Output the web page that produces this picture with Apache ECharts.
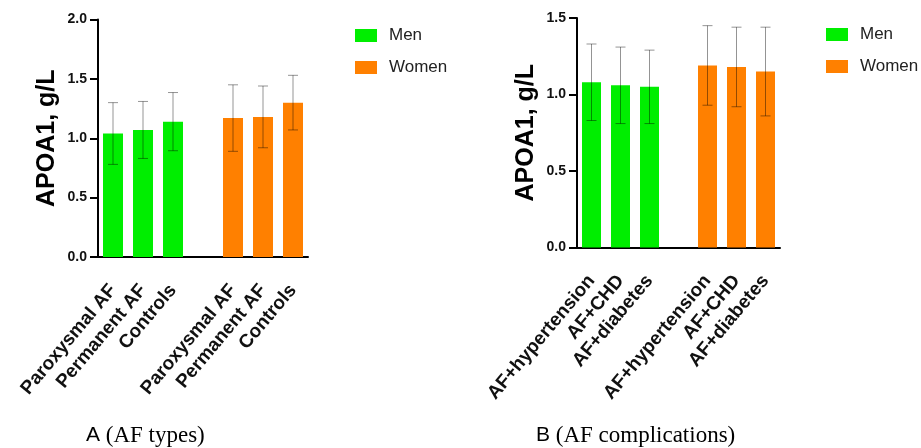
<!DOCTYPE html>
<html>
<head>
<meta charset="utf-8">
<script src="https://cdn.jsdelivr.net/npm/echarts@6/dist/echarts.min.js"></script>
<style>
  html, body { margin: 0; padding: 0; background: #fff; }
  #chart { width: 921px; height: 448px; }
</style>
</head>
<body>
<div id="chart"></div>
<script>
var font = 'Liberation Sans, Arial, sans-serif';

// panel A: AF types
var catsA = ['Paroxysmal AF', 'Permanent AF', 'Controls', '', 'Paroxysmal AF', 'Permanent AF', 'Controls'];
var menA = [1.04, 1.07, 1.14];
var menSdA = [0.26, 0.24, 0.245];
var womenA = [1.17, 1.18, 1.30];
var womenSdA = [0.28, 0.26, 0.23];

// panel B: AF complications
var catsB = ['AF+hypertension', 'AF+CHD', 'AF+diabetes', '', 'AF+hypertension', 'AF+CHD', 'AF+diabetes'];
var menB = [1.08, 1.06, 1.05];
var menSdB = [0.25, 0.25, 0.24];
var womenB = [1.19, 1.18, 1.15];
var womenSdB = [0.26, 0.26, 0.29];

var menColor = '#00ee00';
var womenColor = '#ff8000';

// men go in slots 0-2, women in slots 4-6 (slot 3 is the gap)
function menSlots(v) { return v.concat(['-', '-', '-', '-']); }
function womenSlots(v) { return ['-', '-', '-', '-'].concat(v); }
function errData(men, menSd, women, womenSd) {
    var out = [];
    men.forEach(function (m, i) { out.push([i, m - menSd[i], m + menSd[i]]); });
    women.forEach(function (w, i) { out.push([i + 4, w - womenSd[i], w + womenSd[i]]); });
    return out;
}

function renderErr(params, api) {
    var x = api.value(0);
    var top = api.coord([x, api.value(2)]);
    var bot = api.coord([x, api.value(1)]);
    var cap = 5;
    var style = { stroke: 'rgba(0,0,0,0.42)', lineWidth: 1 };
    return {
        type: 'group',
        children: [
            { type: 'line', shape: { x1: top[0], y1: top[1], x2: bot[0], y2: bot[1] }, style: style },
            { type: 'line', shape: { x1: top[0] - cap, y1: top[1], x2: top[0] + cap, y2: top[1] }, style: style },
            { type: 'line', shape: { x1: bot[0] - cap, y1: bot[1], x2: bot[0] + cap, y2: bot[1] }, style: style }
        ]
    };
}

function xAxis(idx, cats) {
    return {
        type: 'category',
        gridIndex: idx,
        data: cats,
        axisLine: { lineStyle: { color: '#000', width: 2 } },
        axisTick: {
            alignWithLabel: true, length: 10, lineStyle: { color: '#000', width: 2 },
            interval: function (i, v) { return v !== ''; }
        },
        axisLabel: {
            interval: 0, rotate: 50, margin: 30,
            color: '#111', fontFamily: font, fontWeight: 'bold', fontSize: 19
        }
    };
}

function yAxis(idx, max) {
    return {
        type: 'value',
        gridIndex: idx,
        min: 0, max: max, interval: 0.5,
        name: 'APOA1, g/L',
        nameLocation: 'middle',
        nameRotate: 90,
        nameGap: 38,
        nameTextStyle: { color: '#000', fontFamily: font, fontWeight: 'bold', fontSize: 25 },
        splitLine: { show: false },
        axisLine: { show: true, lineStyle: { color: '#000', width: 2 } },
        axisTick: { show: true, length: 8, lineStyle: { color: '#000', width: 2 } },
        axisLabel: {
            margin: 11, color: '#111', fontFamily: font, fontWeight: 'bold', fontSize: 14,
            formatter: function (v) { return v.toFixed(1); }
        }
    };
}

function legend(left, top) {
    return {
        orient: 'vertical', left: left, top: top, padding: 0,
        icon: 'rect', itemWidth: 22, itemHeight: 13, itemGap: 15,
        selectedMode: false,
        data: ['Men', 'Women'],
        textStyle: { color: '#222', fontFamily: font, fontSize: 17, padding: [0, 0, 0, 7] }
    };
}

var captionStyle = {
    fontFamily: 'Liberation Serif', fontWeight: 'normal', fontSize: 23, color: '#000',
    rich: { s: { fontFamily: font, fontSize: 21, color: '#000' } }
};

var chart = echarts.init(document.getElementById('chart'), null, { renderer: 'canvas' });
chart.setOption({
    animation: false,
    backgroundColor: '#fff',
    title: [
        { text: '{s|A} (AF types)', left: 86, top: 424, padding: 0, textStyle: captionStyle },
        { text: '{s|B} (AF complications)', left: 536, top: 424, padding: 0, textStyle: captionStyle }
    ],
    legend: [legend(355, 27), legend(826, 26)],
    grid: [
        { left: 98, top: 19.5, width: 210, height: 237.5 },
        { left: 577, top: 18, width: 203, height: 229.5 }
    ],
    xAxis: [xAxis(0, catsA), xAxis(1, catsB)],
    yAxis: [yAxis(0, 2), yAxis(1, 1.5)],
    series: [
        { name: 'Men', type: 'bar', xAxisIndex: 0, yAxisIndex: 0, barWidth: 20, barGap: '-100%',
          itemStyle: { color: menColor }, data: menSlots(menA) },
        { name: 'Women', type: 'bar', xAxisIndex: 0, yAxisIndex: 0, barWidth: 20, barGap: '-100%',
          itemStyle: { color: womenColor }, data: womenSlots(womenA) },
        { type: 'custom', xAxisIndex: 0, yAxisIndex: 0, z: 5, renderItem: renderErr,
          data: errData(menA, menSdA, womenA, womenSdA) },
        { name: 'Men', type: 'bar', xAxisIndex: 1, yAxisIndex: 1, barWidth: 19, barGap: '-100%',
          itemStyle: { color: menColor }, data: menSlots(menB) },
        { name: 'Women', type: 'bar', xAxisIndex: 1, yAxisIndex: 1, barWidth: 19, barGap: '-100%',
          itemStyle: { color: womenColor }, data: womenSlots(womenB) },
        { type: 'custom', xAxisIndex: 1, yAxisIndex: 1, z: 5, renderItem: renderErr,
          data: errData(menB, menSdB, womenB, womenSdB) }
    ]
});
</script>
</body>
</html>
